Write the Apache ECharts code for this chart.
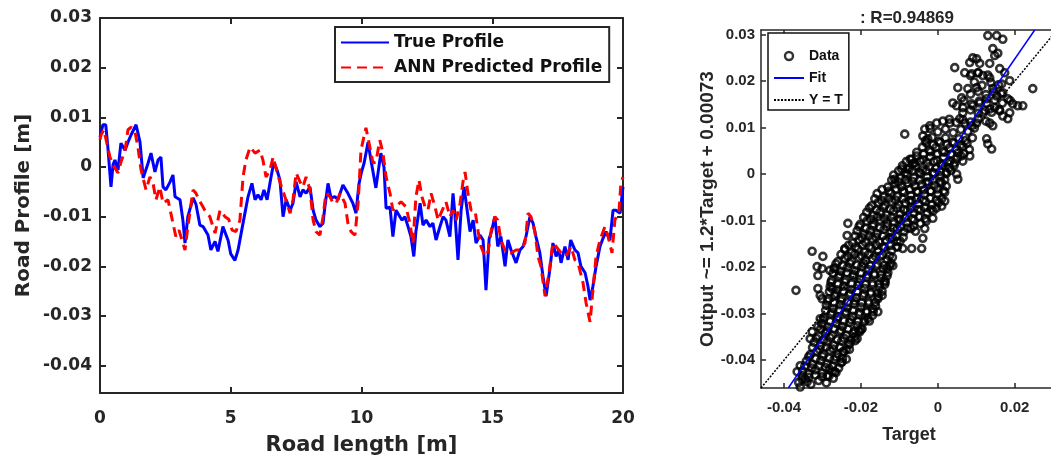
<!DOCTYPE html>
<html>
<head>
<meta charset="utf-8">
<script src="https://cdn.jsdelivr.net/npm/echarts@6/dist/echarts.min.js"></script>
<style>html,body{margin:0;padding:0;background:#fff;}#c{width:1051px;height:457px;}</style>
</head>
<body>
<div id="c"></div>
<script>
// ---------- Left chart data (road length [m], road profile [m]) ----------
const trueProfile = [[0.0,0.006],[0.11,0.0085],[0.22,0.0085],[0.3,0.004],[0.42,-0.004],[0.5,0.0005],[0.57,0.0014],[0.69,-0.0006],[0.8,0.0048],[0.96,0.0034],[1.07,0.005],[1.19,0.0065],[1.38,0.0085],[1.53,0.005],[1.65,-0.0022],[1.84,0.0008],[1.95,0.0028],[2.1,-0.001],[2.22,0.0014],[2.33,0.002],[2.41,-0.004],[2.52,-0.0046],[2.68,-0.003],[2.79,-0.0016],[2.87,-0.006],[3.06,-0.0066],[3.17,-0.0107],[3.25,-0.0153],[3.36,-0.01],[3.56,-0.0062],[3.67,-0.0075],[3.82,-0.0117],[3.94,-0.012],[4.13,-0.0137],[4.24,-0.0167],[4.4,-0.015],[4.51,-0.017],[4.7,-0.012],[4.9,-0.0148],[5.0,-0.0175],[5.16,-0.0188],[5.28,-0.0167],[5.47,-0.0113],[5.66,-0.006],[5.81,-0.0033],[5.93,-0.0066],[6.04,-0.0056],[6.16,-0.0066],[6.27,-0.0046],[6.39,-0.0066],[6.54,-0.002],[6.65,0.001],[6.77,-0.0006],[6.88,-0.0026],[7.0,-0.01],[7.12,-0.0066],[7.27,-0.0087],[7.38,-0.0073],[7.5,-0.003],[7.65,-0.006],[7.76,-0.0046],[7.88,-0.0053],[8.03,-0.004],[8.15,-0.0087],[8.26,-0.0107],[8.41,-0.012],[8.53,-0.0113],[8.6,-0.008],[8.72,-0.0033],[8.83,-0.0062],[8.99,-0.006],[9.1,-0.0066],[9.29,-0.0036],[9.48,-0.0053],[9.67,-0.0073],[9.79,-0.0093],[9.9,-0.0035],[10.0,-0.001],[10.1,0.0008],[10.25,0.005],[10.36,0.0014],[10.55,-0.0042],[10.74,0.0028],[10.86,0.0],[10.94,-0.0083],[11.09,-0.0081],[11.2,-0.014],[11.32,-0.0087],[11.55,-0.0107],[11.66,-0.01],[11.78,-0.012],[11.89,-0.014],[12.0,-0.018],[12.08,-0.013],[12.24,-0.0073],[12.35,-0.0117],[12.47,-0.0107],[12.62,-0.012],[12.73,-0.0113],[12.85,-0.0147],[13.0,-0.012],[13.12,-0.01],[13.23,-0.0107],[13.38,-0.014],[13.5,-0.0053],[13.58,-0.01],[13.69,-0.0187],[13.81,-0.0087],[13.92,-0.004],[14.04,-0.0087],[14.15,-0.013],[14.27,-0.0107],[14.38,-0.0153],[14.53,-0.0137],[14.65,-0.0147],[14.76,-0.0248],[14.88,-0.0145],[14.97,-0.013],[15.1,-0.01],[15.21,-0.016],[15.33,-0.014],[15.49,-0.02],[15.6,-0.0147],[15.72,-0.0167],[15.91,-0.0193],[16.06,-0.0167],[16.18,-0.016],[16.29,-0.014],[16.44,-0.01],[16.56,-0.0113],[16.67,-0.014],[16.82,-0.0173],[16.94,-0.022],[17.06,-0.026],[17.2,-0.0207],[17.32,-0.0153],[17.44,-0.018],[17.55,-0.0167],[17.63,-0.0193],[17.78,-0.016],[17.9,-0.0187],[18.0,-0.0147],[18.16,-0.0167],[18.28,-0.0173],[18.39,-0.02],[18.55,-0.0213],[18.66,-0.024],[18.74,-0.0268],[18.85,-0.024],[18.97,-0.02],[19.12,-0.016],[19.24,-0.0143],[19.35,-0.013],[19.5,-0.0147],[19.62,-0.0087],[19.73,-0.0087],[19.89,-0.0093],[20.0,-0.004]];

const annProfile = [[0.0,0.0055],[0.04,0.0065],[0.15,0.0075],[0.38,0.002],[0.5,0.0004],[0.69,-0.0012],[0.8,0.001],[0.96,0.0034],[1.07,0.0075],[1.19,0.008],[1.34,0.007],[1.45,0.004],[1.57,-0.0006],[1.76,-0.0046],[1.91,-0.002],[2.02,-0.003],[2.14,-0.0066],[2.29,-0.004],[2.41,-0.0073],[2.6,-0.0066],[2.79,-0.0113],[2.9,-0.014],[3.02,-0.0127],[3.25,-0.0167],[3.36,-0.012],[3.56,-0.0046],[3.67,-0.0053],[3.86,-0.0073],[4.01,-0.0087],[4.2,-0.01],[4.4,-0.0133],[4.59,-0.0087],[4.78,-0.01],[4.92,-0.0105],[5.05,-0.0127],[5.2,-0.013],[5.35,-0.0107],[5.47,-0.002],[5.58,0.0014],[5.74,0.004],[5.93,0.0028],[6.12,0.0034],[6.23,0.0014],[6.35,-0.002],[6.5,-0.0006],[6.62,0.002],[6.73,-0.0002],[6.88,-0.003],[7.07,-0.006],[7.27,-0.0093],[7.38,-0.0066],[7.5,-0.0012],[7.65,-0.003],[7.76,-0.004],[7.88,-0.002],[8.03,-0.0046],[8.15,-0.0107],[8.26,-0.013],[8.41,-0.0137],[8.53,-0.01],[8.64,-0.0053],[8.8,-0.006],[8.91,-0.0073],[9.03,-0.0073],[9.18,-0.0053],[9.37,-0.0073],[9.48,-0.0113],[9.6,-0.013],[9.75,-0.0137],[9.87,-0.0073],[9.98,0.0034],[10.17,0.0079],[10.32,0.004],[10.44,0.0008],[10.55,0.001],[10.7,0.0054],[10.82,0.0028],[10.94,-0.002],[11.09,-0.0053],[11.2,-0.0087],[11.32,-0.008],[11.51,-0.007],[11.7,-0.008],[11.85,-0.0113],[11.97,-0.0153],[12.08,-0.006],[12.2,-0.0026],[12.31,-0.006],[12.43,-0.008],[12.54,-0.0087],[12.66,-0.0053],[12.81,-0.008],[12.93,-0.0107],[13.04,-0.0093],[13.23,-0.007],[13.38,-0.01],[13.5,-0.0087],[13.62,-0.0107],[13.77,-0.0073],[13.88,-0.003],[13.96,-0.001],[14.07,-0.0053],[14.19,-0.0087],[14.34,-0.0087],[14.46,-0.013],[14.57,-0.016],[14.72,-0.018],[14.84,-0.0170],[14.97,-0.0125],[15.1,-0.01],[15.21,-0.0107],[15.33,-0.0147],[15.53,-0.0173],[15.72,-0.0173],[15.91,-0.0167],[16.1,-0.0167],[16.25,-0.0153],[16.37,-0.0093],[16.48,-0.01],[16.63,-0.013],[16.75,-0.018],[16.86,-0.02],[17.02,-0.026],[17.17,-0.0213],[17.32,-0.0153],[17.44,-0.016],[17.63,-0.0173],[17.82,-0.018],[18.01,-0.016],[18.16,-0.0187],[18.28,-0.0193],[18.47,-0.0233],[18.59,-0.0274],[18.74,-0.0312],[18.85,-0.0248],[18.97,-0.018],[19.12,-0.0147],[19.31,-0.012],[19.43,-0.014],[19.58,-0.0173],[19.69,-0.0107],[19.85,-0.0087],[19.92,-0.0033],[20.0,-0.002]];

const leftXTicks = [0, 5, 10, 15, 20];
const leftYTicks = [-0.04, -0.03, -0.02, -0.01, 0, 0.01, 0.02, 0.03];

// ---------- Right chart data (Target, Output) ----------
const scatterLower = [[-0.0362,-0.0448],[-0.0345,-0.0441],[-0.033,-0.0452],[-0.031,-0.0444],[-0.029,-0.0449],[-0.0272,-0.0439],
[-0.0352,-0.0423],[-0.0335,-0.0429],[-0.0318,-0.0421],[-0.030,-0.0428],[-0.0282,-0.0419],[-0.0265,-0.0427],
[-0.0342,-0.0402],[-0.0325,-0.0409],[-0.0305,-0.0401],[-0.0288,-0.0408],[-0.027,-0.0399],[-0.0252,-0.0406],[-0.0238,-0.0398],
[-0.0332,-0.0388],[-0.0315,-0.0381],[-0.0298,-0.0387],[-0.028,-0.0379],[-0.026,-0.0386],[-0.0245,-0.0382],[-0.023,-0.0377],
[-0.0322,-0.0362],[-0.0305,-0.0369],[-0.0288,-0.0361],[-0.027,-0.0368],[-0.025,-0.0359],[-0.0232,-0.0366],[-0.0215,-0.0358],
[-0.031,-0.0348],[-0.0292,-0.0341],[-0.0275,-0.0347],[-0.0255,-0.0339],[-0.0238,-0.0346],[-0.022,-0.0342],[-0.0205,-0.0337],
[-0.0302,-0.0322],[-0.0285,-0.0329],[-0.0265,-0.0321],[-0.0248,-0.0328],[-0.023,-0.0319],[-0.021,-0.0326],[-0.0192,-0.0318],
[-0.0296,-0.0308],[-0.0278,-0.0301],[-0.026,-0.0307],[-0.024,-0.0299],[-0.0222,-0.0306],[-0.0205,-0.0302],[-0.0185,-0.0297],[-0.017,-0.0304],
[-0.029,-0.0282],[-0.0272,-0.0289],[-0.0255,-0.0281],[-0.0235,-0.0288],[-0.0218,-0.0279],[-0.02,-0.0286],[-0.018,-0.0278],[-0.0162,-0.0284],
[-0.0285,-0.0268],[-0.0268,-0.0261],[-0.025,-0.0267],[-0.023,-0.0259],[-0.0212,-0.0266],[-0.0195,-0.0262],[-0.0175,-0.0257],[-0.0155,-0.0264]];

const scatterMiddle = [[-0.028,-0.0242],[-0.0262,-0.0249],[-0.0245,-0.0241],[-0.0225,-0.0248],[-0.0208,-0.0239],[-0.019,-0.0246],[-0.017,-0.0238],[-0.0152,-0.0244],[-0.0138,-0.0237],
[-0.0276,-0.0228],[-0.0258,-0.0221],[-0.024,-0.0227],[-0.022,-0.0219],[-0.0202,-0.0226],[-0.0185,-0.0222],[-0.0165,-0.0217],[-0.0148,-0.0224],[-0.0132,-0.0219],
[-0.027,-0.0202],[-0.0252,-0.0209],[-0.0235,-0.0201],[-0.0215,-0.0208],[-0.0198,-0.0199],[-0.018,-0.0206],[-0.016,-0.0198],[-0.0142,-0.0204],[-0.0125,-0.0197],
[-0.026,-0.0188],[-0.0242,-0.0181],[-0.0225,-0.0187],[-0.0205,-0.0179],[-0.0188,-0.0186],[-0.017,-0.0182],[-0.015,-0.0177],[-0.0132,-0.0184],[-0.0118,-0.0179],
[-0.0242,-0.0162],[-0.0225,-0.0169],[-0.0208,-0.0161],[-0.019,-0.0168],[-0.0172,-0.0159],[-0.0155,-0.0166],[-0.0138,-0.0158],[-0.012,-0.0164],[-0.0105,-0.0157],
[-0.0222,-0.0148],[-0.0205,-0.0141],[-0.0188,-0.0147],[-0.017,-0.0139],[-0.0152,-0.0146],[-0.0135,-0.0142],[-0.0118,-0.0137],[-0.0098,-0.0144],
[-0.021,-0.0122],[-0.0192,-0.0129],[-0.0175,-0.0121],[-0.0158,-0.0128],[-0.014,-0.0119],[-0.0122,-0.0126],[-0.0105,-0.0118],[-0.0088,-0.0124],[-0.007,-0.0117],[-0.0058,-0.0123],
[-0.0202,-0.0108],[-0.0185,-0.0101],[-0.0168,-0.0107],[-0.015,-0.0099],[-0.0132,-0.0106],[-0.0115,-0.0102],[-0.0098,-0.0097],[-0.008,-0.0104],[-0.0062,-0.0099],[-0.0045,-0.0106],[-0.003,-0.0101],
[-0.0185,-0.0082],[-0.0168,-0.0089],[-0.015,-0.0081],[-0.0132,-0.0088],[-0.0115,-0.0079],[-0.0098,-0.0086],[-0.008,-0.0078],[-0.0062,-0.0084],[-0.0045,-0.0077],[-0.0028,-0.0083],[-0.0012,-0.0079],
[-0.0172,-0.0068],[-0.0155,-0.0061],[-0.0138,-0.0067],[-0.012,-0.0059],[-0.0102,-0.0066],[-0.0085,-0.0062],[-0.0068,-0.0057],[-0.005,-0.0064],[-0.0032,-0.0059],[-0.0015,-0.0066],[0.0002,-0.0061],[0.0018,-0.0058],
[-0.0158,-0.0042],[-0.014,-0.0049],[-0.0122,-0.0041],[-0.0105,-0.0048],[-0.0088,-0.0039],[-0.007,-0.0046],[-0.0052,-0.0038],[-0.0035,-0.0044],[-0.0018,-0.0037],[0.0,-0.0043],[0.0018,-0.0039]];

const scatterUpper = [[-0.013,-0.0028],[-0.0112,-0.0021],[-0.0095,-0.0027],[-0.0078,-0.0019],[-0.006,-0.0026],[-0.0042,-0.0022],[-0.0025,-0.0017],[-0.0008,-0.0024],[0.001,-0.0019],[0.0022,-0.0026],
[-0.0115,-0.0002],[-0.0098,-0.0009],[-0.008,-0.0001],[-0.0062,-0.0008],[-0.0045,0.0001],[-0.0028,-0.0006],[-0.001,0.0002],[0.0008,-0.0004],[0.0022,0.0001],
[-0.0092,0.0018],[-0.0075,0.0011],[-0.0058,0.0017],[-0.004,0.0009],[-0.0022,0.0016],[-0.0005,0.0012],[0.0012,0.0019],[0.003,0.0013],[0.0042,0.0018],
[-0.0072,0.0032],[-0.0055,0.0039],[-0.0038,0.0031],[-0.002,0.0038],[-0.0002,0.0029],[0.0015,0.0036],[0.0032,0.0028],[0.005,0.0034],[0.006,0.0039],
[-0.004,0.0058],[-0.0022,0.0051],[-0.0005,0.0057],[0.0012,0.0049],[0.003,0.0056],[0.0048,0.0052],[0.0065,0.0059],[0.0082,0.0053],
[-0.0032,0.0072],[-0.0015,0.0079],[0.0002,0.0071],[0.002,0.0078],[0.0038,0.0069],[0.0055,0.0076],[0.0072,0.0072],[0.009,0.0078],
[-0.002,0.0098],[0.0,0.0091],[0.002,0.0097],[0.004,0.0089],[0.006,0.0096],[0.0078,0.0092],[0.0095,0.0099],
[0.003,0.0118],[0.0048,0.0111],[0.0065,0.0117],[0.0085,0.0112],[0.0105,0.0119],[0.0125,0.0114],
[0.0065,0.0132],[0.0085,0.0138],[0.0105,0.0131],[0.0122,0.0137],[0.014,0.0133],[0.016,0.0139],
[0.0068,0.0158],[0.0088,0.0151],[0.0108,0.0157],[0.0128,0.0152],[0.0148,0.0159],[0.0168,0.0153],[0.0188,0.0158],
[0.0085,0.0172],[0.0105,0.0178],[0.0125,0.0171],[0.0145,0.0177],[0.0165,0.0173],
[0.0095,0.0198],[0.0115,0.0191],[0.0138,0.0197],[0.0158,0.0192],
[0.0085,0.0212],[0.0105,0.0218],[0.013,0.0213]];

// dense core, between the rows above
const scatterCore = [[-0.0353,-0.0433],[-0.0336,-0.0437],[-0.0319,-0.0432],[-0.0301,-0.0436],[-0.0283,-0.0434],
[-0.0346,-0.0413],[-0.0328,-0.0417],[-0.031,-0.0412],[-0.0292,-0.0416],[-0.0274,-0.0413],[-0.0258,-0.0417],
[-0.0336,-0.0393],[-0.0318,-0.0397],[-0.03,-0.0392],[-0.0282,-0.0396],[-0.0265,-0.0393],[-0.0248,-0.0397],
[-0.0326,-0.0373],[-0.0308,-0.0377],[-0.029,-0.0372],[-0.0272,-0.0376],[-0.0255,-0.0373],[-0.0238,-0.0377],
[-0.0316,-0.0353],[-0.0298,-0.0357],[-0.028,-0.0352],[-0.0262,-0.0356],[-0.0244,-0.0353],[-0.0226,-0.0357],[-0.021,-0.0354],
[-0.0305,-0.0333],[-0.0288,-0.0337],[-0.027,-0.0332],[-0.0252,-0.0336],[-0.0234,-0.0333],[-0.0216,-0.0337],[-0.02,-0.0334],
[-0.0298,-0.0313],[-0.028,-0.0317],[-0.0262,-0.0312],[-0.0244,-0.0316],[-0.0226,-0.0313],[-0.0208,-0.0317],[-0.019,-0.0314],[-0.0178,-0.0316],
[-0.0292,-0.0293],[-0.0275,-0.0297],[-0.0257,-0.0292],[-0.0239,-0.0296],[-0.0221,-0.0293],[-0.0203,-0.0297],[-0.0185,-0.0294],[-0.0168,-0.0296],
[-0.0287,-0.0273],[-0.027,-0.0277],[-0.0252,-0.0272],[-0.0234,-0.0276],[-0.0216,-0.0273],[-0.0198,-0.0277],[-0.018,-0.0274],[-0.0163,-0.0276],
[-0.0282,-0.0253],[-0.0264,-0.0257],[-0.0246,-0.0252],[-0.0228,-0.0256],[-0.021,-0.0253],[-0.0192,-0.0257],[-0.0174,-0.0254],[-0.0156,-0.0256],[-0.0145,-0.0252],
[-0.0278,-0.0233],[-0.026,-0.0237],[-0.0242,-0.0232],[-0.0224,-0.0236],[-0.0206,-0.0233],[-0.0188,-0.0237],[-0.017,-0.0234],[-0.0152,-0.0236],[-0.0137,-0.0232],
[-0.0273,-0.0213],[-0.0255,-0.0217],[-0.0237,-0.0212],[-0.0219,-0.0216],[-0.0201,-0.0213],[-0.0183,-0.0217],[-0.0165,-0.0214],[-0.0147,-0.0216],[-0.013,-0.0212],
[-0.0265,-0.0193],[-0.0247,-0.0197],[-0.0229,-0.0192],[-0.0211,-0.0196],[-0.0193,-0.0193],[-0.0175,-0.0197],[-0.0157,-0.0194],[-0.0139,-0.0196],[-0.0122,-0.0192],
[-0.0252,-0.0173],[-0.0234,-0.0177],[-0.0216,-0.0172],[-0.0198,-0.0176],[-0.018,-0.0173],[-0.0162,-0.0177],[-0.0144,-0.0174],[-0.0126,-0.0176],
[-0.0232,-0.0153],[-0.0214,-0.0157],[-0.0196,-0.0152],[-0.0178,-0.0156],[-0.016,-0.0153],[-0.0142,-0.0157],[-0.0124,-0.0154],[-0.0108,-0.0156],
[-0.0215,-0.0133],[-0.0197,-0.0137],[-0.0179,-0.0132],[-0.0161,-0.0136],[-0.0143,-0.0133],[-0.0125,-0.0137],[-0.0107,-0.0134],[-0.009,-0.0136],
[-0.0205,-0.0113],[-0.0187,-0.0117],[-0.0169,-0.0112],[-0.0151,-0.0116],[-0.0133,-0.0113],[-0.0115,-0.0117],[-0.0097,-0.0114],[-0.0079,-0.0116],[-0.0063,-0.0112],
[-0.0193,-0.0093],[-0.0175,-0.0097],[-0.0157,-0.0092],[-0.0139,-0.0096],[-0.0121,-0.0093],[-0.0103,-0.0097],[-0.0085,-0.0094],[-0.0067,-0.0096],[-0.0049,-0.0092],[-0.0033,-0.0096],
[-0.0178,-0.0073],[-0.016,-0.0077],[-0.0142,-0.0072],[-0.0124,-0.0076],[-0.0106,-0.0073],[-0.0088,-0.0077],[-0.007,-0.0074],[-0.0052,-0.0076],[-0.0034,-0.0072],[-0.0018,-0.0076],[-0.0004,-0.0073],
[-0.0164,-0.0053],[-0.0146,-0.0057],[-0.0128,-0.0052],[-0.011,-0.0056],[-0.0092,-0.0053],[-0.0074,-0.0057],[-0.0056,-0.0054],[-0.0038,-0.0056],[-0.002,-0.0052],[-0.0004,-0.0056],[0.001,-0.0053],
[-0.0145,-0.0033],[-0.0127,-0.0037],[-0.0109,-0.0032],[-0.0091,-0.0036],[-0.0073,-0.0033],[-0.0055,-0.0037],[-0.0037,-0.0034],[-0.0019,-0.0036],[-0.0001,-0.0032],[0.0015,-0.0036],
[-0.012,-0.0013],[-0.0102,-0.0017],[-0.0084,-0.0012],[-0.0066,-0.0016],[-0.0048,-0.0013],[-0.003,-0.0017],[-0.0012,-0.0014],[0.0006,-0.0016],[0.0018,-0.0012],
[-0.0102,0.0007],[-0.0084,0.0003],[-0.0066,0.0008],[-0.0048,0.0004],[-0.003,0.0007],[-0.0012,0.0003],[0.0006,0.0006],[0.0022,0.0004],[0.0034,0.0008],
[-0.0082,0.0027],[-0.0064,0.0023],[-0.0046,0.0028],[-0.0028,0.0024],[-0.001,0.0027],[0.0008,0.0023],[0.0026,0.0026],[0.0044,0.0024],
[-0.0055,0.0047],[-0.0037,0.0043],[-0.0019,0.0048],[-0.0001,0.0044],[0.0017,0.0047],[0.0035,0.0043],[0.0053,0.0046],[0.0068,0.0044],
[-0.003,0.0067],[-0.0012,0.0063],[0.0006,0.0068],[0.0024,0.0064],[0.0042,0.0067],[0.006,0.0063],[0.0076,0.0066]];

const scatterOutliers = [[0.0143,0.0313],[0.013,0.0298],[0.0153,0.0298],[0.0169,0.029],[0.0143,0.027],[0.0148,0.0255],[0.0156,0.026],[0.0091,0.025],[0.0101,0.0248],[0.0044,0.0229],[0.0083,0.024],[0.0109,0.0238],[0.0135,0.0238],[0.007,0.0218],[0.0088,0.0216],[0.0104,0.0218],[0.0117,0.0212],[0.0135,0.0207],[0.0161,0.0227],[0.0174,0.0218],[0.0187,0.0201],[0.0166,0.0194],[0.0247,0.0184],[0.0052,0.0186],[0.0078,0.0184],[0.0101,0.0186],[0.0143,0.0184],[0.0153,0.0168],[0.0169,0.0175],[0.0182,0.0162],[0.0195,0.0151],[0.0208,0.0147],[0.0221,0.0147],[0.0187,0.0132],[0.0182,0.0119],[0.0039,0.0153],[0.0049,0.0147],[0.0062,0.0164],[0.0065,0.0143],[0.0091,0.0147],[0.0109,0.0153],[0.0127,0.0162],[0.0117,0.0132],[0.0135,0.014],[0.0148,0.0143],[0.0161,0.0136],[0.0169,0.0125],[0.0135,0.011],[0.0143,0.0104],[0.0127,0.0076],[0.013,0.0065],[0.014,0.0054],[0.0101,0.011],[0.0088,0.0104],[0.007,0.011],[0.0057,0.0119],[0.0031,0.011],[0.0013,0.0114],[-0.0003,0.011],[-0.0021,0.0104],[-0.0034,0.0097],[-0.0039,0.0082],[-0.0026,0.0076],[0.0083,0.0039],[0.0065,0.0028],[0.0052,-0.0011],[0.0049,0.0],[-0.0068,0.0032],[-0.006,0.0024],[-0.008,0.0011],[-0.0094,0.0011],[-0.0112,-0.0011],[-0.0086,0.0086],
[-0.0234,-0.0106],[-0.0236,-0.0132],[-0.0242,-0.016],[-0.0327,-0.0166],[-0.0299,-0.0177],[-0.0314,-0.0199],[-0.0301,-0.0203],[-0.0312,-0.0218],[-0.0369,-0.025],[-0.0312,-0.0246],[-0.0301,-0.0268],[-0.0306,-0.0261],[-0.0275,-0.0246],[-0.0281,-0.0207],[-0.0268,-0.0203],[-0.0327,-0.0339],[-0.0332,-0.0354],[-0.0312,-0.0328],[-0.0306,-0.0311],[-0.0358,-0.0412],[-0.0366,-0.0425],[-0.0353,-0.0441],[-0.034,-0.0447],[-0.0358,-0.0458],[-0.0106,-0.0145],[-0.0091,-0.016],[-0.0068,-0.016],[-0.0042,-0.016],[-0.0034,-0.0117],[-0.0039,-0.0138],[0.001,-0.0069],[-0.0013,-0.0095],[-0.0117,-0.0197],[-0.0132,-0.0203],[-0.0138,-0.0229],[-0.0145,-0.0261],[-0.0156,-0.0268],[-0.0156,-0.0296],[-0.0169,-0.029],[-0.0182,-0.0311],[-0.0197,-0.0333],[-0.0203,-0.0339],[-0.0216,-0.035],[-0.0229,-0.0365],[-0.0247,-0.0382],[-0.0268,-0.0425],[-0.0275,-0.0425],[-0.0288,-0.0434],[-0.0249,-0.0404]];

const fitLine = [[-0.0389,-0.046],[0.0252,0.031]];      // Output ~= 1.2*Target + 0.00073
const identityLine = [[-0.046,-0.046],[0.031,0.031]];   // Y = T
const rightXTicks = [-0.04, -0.02, 0, 0.02];
const rightYTicks = [-0.04, -0.03, -0.02, -0.01, 0, 0.01, 0.02, 0.03];

// ---------- Chart ----------
const dark = '#262626';
const fL = 'DejaVu Sans';
const fR = 'Liberation Sans';
const fmt = v => { const r = Math.round(v * 100) / 100; return r === 0 ? '0' : String(r); };
const noSymbol = { color: 'rgba(0,0,0,0)', borderWidth: 0, opacity: 0 };

function boxAxis(extra) {
  return Object.assign({
    type: 'value',
    splitLine: { show: false },
    axisLine: { show: true, onZero: false, lineStyle: { color: dark, width: 2 } },
    axisTick: { show: true, inside: true, length: 6, lineStyle: { color: dark, width: 2 } },
    axisLabel: { show: false }
  }, extra);
}

const chart = echarts.init(document.getElementById('c'), null, { renderer: 'canvas' });
chart.setOption({
  animation: false,
  backgroundColor: '#fff',
  grid: [
    { left: 100, top: 18, width: 523, height: 375, containLabel: false, outerBoundsMode: 'none' },
    { left: 761, top: 30, width: 296, height: 358, containLabel: false, outerBoundsMode: 'none' }
  ],
  xAxis: [
    boxAxis({ gridIndex: 0, min: 0, max: 20, interval: 5, position: 'bottom',
      name: 'Road length [m]', nameLocation: 'middle', nameGap: 42,
      nameTextStyle: { fontFamily: fL, fontWeight: 'bold', fontSize: 21, color: dark },
      axisLabel: { show: true, margin: 17, fontFamily: fL, fontWeight: 'bold', fontSize: 17, color: dark,
        customValues: leftXTicks, formatter: v => String(v) },
      axisTick: { show: true, inside: true, length: 6, lineStyle: { color: dark, width: 2 }, customValues: leftXTicks } }),
    boxAxis({ gridIndex: 0, min: 0, max: 20, interval: 5, position: 'top',
      axisTick: { show: true, inside: true, length: 6, lineStyle: { color: dark, width: 2 }, customValues: leftXTicks } }),
    boxAxis({ gridIndex: 1, min: -0.046, max: 0.031, position: 'bottom',
      name: 'Target', nameLocation: 'middle', nameGap: 38,
      nameTextStyle: { fontFamily: fR, fontWeight: 'bold', fontSize: 18, color: dark },
      axisLine: { show: true, onZero: false, lineStyle: { color: dark, width: 1.5 } },
      axisLabel: { show: true, margin: 12, fontFamily: fR, fontWeight: 'bold', fontSize: 15, color: dark,
        customValues: rightXTicks, formatter: fmt },
      axisTick: { show: true, inside: true, length: 5, lineStyle: { color: dark, width: 1.5 }, customValues: rightXTicks } }),
    boxAxis({ gridIndex: 1, min: -0.046, max: 0.031, position: 'top',
      axisLine: { show: true, onZero: false, lineStyle: { color: dark, width: 1.5 } },
      axisTick: { show: true, inside: true, length: 5, lineStyle: { color: dark, width: 1.5 }, customValues: rightXTicks } })
  ],
  yAxis: [
    boxAxis({ gridIndex: 0, min: -0.0455, max: 0.03, position: 'left',
      name: 'Road Profile [m]', nameLocation: 'middle', nameGap: 66, nameRotate: 90,
      nameTextStyle: { fontFamily: fL, fontWeight: 'bold', fontSize: 20, color: dark },
      axisLabel: { show: true, margin: 8, fontFamily: fL, fontWeight: 'bold', fontSize: 17, color: dark,
        customValues: leftYTicks, formatter: fmt },
      axisTick: { show: true, inside: true, length: 6, lineStyle: { color: dark, width: 2 }, customValues: leftYTicks } }),
    boxAxis({ gridIndex: 0, min: -0.0455, max: 0.03, position: 'right',
      axisTick: { show: true, inside: true, length: 6, lineStyle: { color: dark, width: 2 }, customValues: leftYTicks } }),
    boxAxis({ gridIndex: 1, min: -0.046, max: 0.031, position: 'left',
      name: 'Output ~= 1.2*Target + 0.00073', nameLocation: 'middle', nameGap: 43, nameRotate: 90,
      nameTextStyle: { fontFamily: fR, fontWeight: 'bold', fontSize: 19, color: dark },
      axisLine: { show: true, onZero: false, lineStyle: { color: dark, width: 1.5 } },
      axisLabel: { show: true, margin: 6, fontFamily: fR, fontWeight: 'bold', fontSize: 15, color: dark,
        customValues: rightYTicks, formatter: fmt },
      axisTick: { show: true, inside: true, length: 5, lineStyle: { color: dark, width: 1.5 }, customValues: rightYTicks } })
  ],
  legend: [
    { left: 335, top: 27, orient: 'vertical', itemWidth: 48, itemHeight: 14, itemGap: 8,
      padding: [7, 7, 6, 5], borderColor: dark, borderWidth: 2, backgroundColor: '#fff',
      textStyle: { fontFamily: fL, fontWeight: 'bold', fontSize: 17, color: '#111' },
      data: [
        { name: 'True Profile', itemStyle: noSymbol },
        { name: 'ANN Predicted Profile', itemStyle: noSymbol }
      ] },
    { left: 768, top: 33, orient: 'vertical', itemWidth: 30, itemHeight: 8, itemGap: 8,
      padding: [16, 6, 3, 5], borderColor: '#111', borderWidth: 1.5, backgroundColor: '#fff',
      textStyle: { fontFamily: fR, fontWeight: 'bold', fontSize: 14, color: '#111' },
      data: [
        { name: 'Data', icon: 'circle', itemStyle: { color: 'rgba(0,0,0,0)', borderColor: '#000', borderWidth: 2.4 } },
        { name: 'Fit', itemStyle: noSymbol },
        { name: 'Y = T', itemStyle: noSymbol }
      ] }
  ],
  graphic: [
    { type: 'text', x: 907, y: 18, z: 100,
      style: { text: ': R=0.94869', align: 'center', verticalAlign: 'middle',
        fontFamily: fR, fontWeight: 'bold', fontSize: 17, fill: dark } }
  ],
  series: [
    { name: 'True Profile', type: 'line', xAxisIndex: 0, yAxisIndex: 0, data: trueProfile,
      symbol: 'none', z: 2, lineStyle: { color: '#0000ff', width: 3 }, itemStyle: { color: '#0000ff' } },
    { name: 'ANN Predicted Profile', type: 'line', xAxisIndex: 0, yAxisIndex: 0, data: annProfile,
      symbol: 'none', z: 3, lineStyle: { color: '#ff0000', width: 3, type: [10, 6] }, itemStyle: { color: '#ff0000' } },
    { name: 'Data', type: 'scatter', xAxisIndex: 2, yAxisIndex: 2,
      data: scatterLower.concat(scatterCore, scatterMiddle, scatterUpper, scatterOutliers),
      symbol: 'circle', symbolSize: 7, z: 2, large: false,
      itemStyle: { color: 'rgba(0,0,0,0)', borderColor: '#000', borderWidth: 2.6 } },
    { name: 'Fit', type: 'line', xAxisIndex: 2, yAxisIndex: 2, data: fitLine, symbol: 'none', z: 3,
      lineStyle: { color: '#0000ff', width: 1.5 }, itemStyle: { color: '#0000ff' } },
    { name: 'Y = T', type: 'line', xAxisIndex: 2, yAxisIndex: 2, data: identityLine, symbol: 'none', z: 3,
      lineStyle: { color: '#000', width: 1.5, type: [2, 1.5] }, itemStyle: { color: '#000' } }
  ]
});
</script>
</body>
</html>
